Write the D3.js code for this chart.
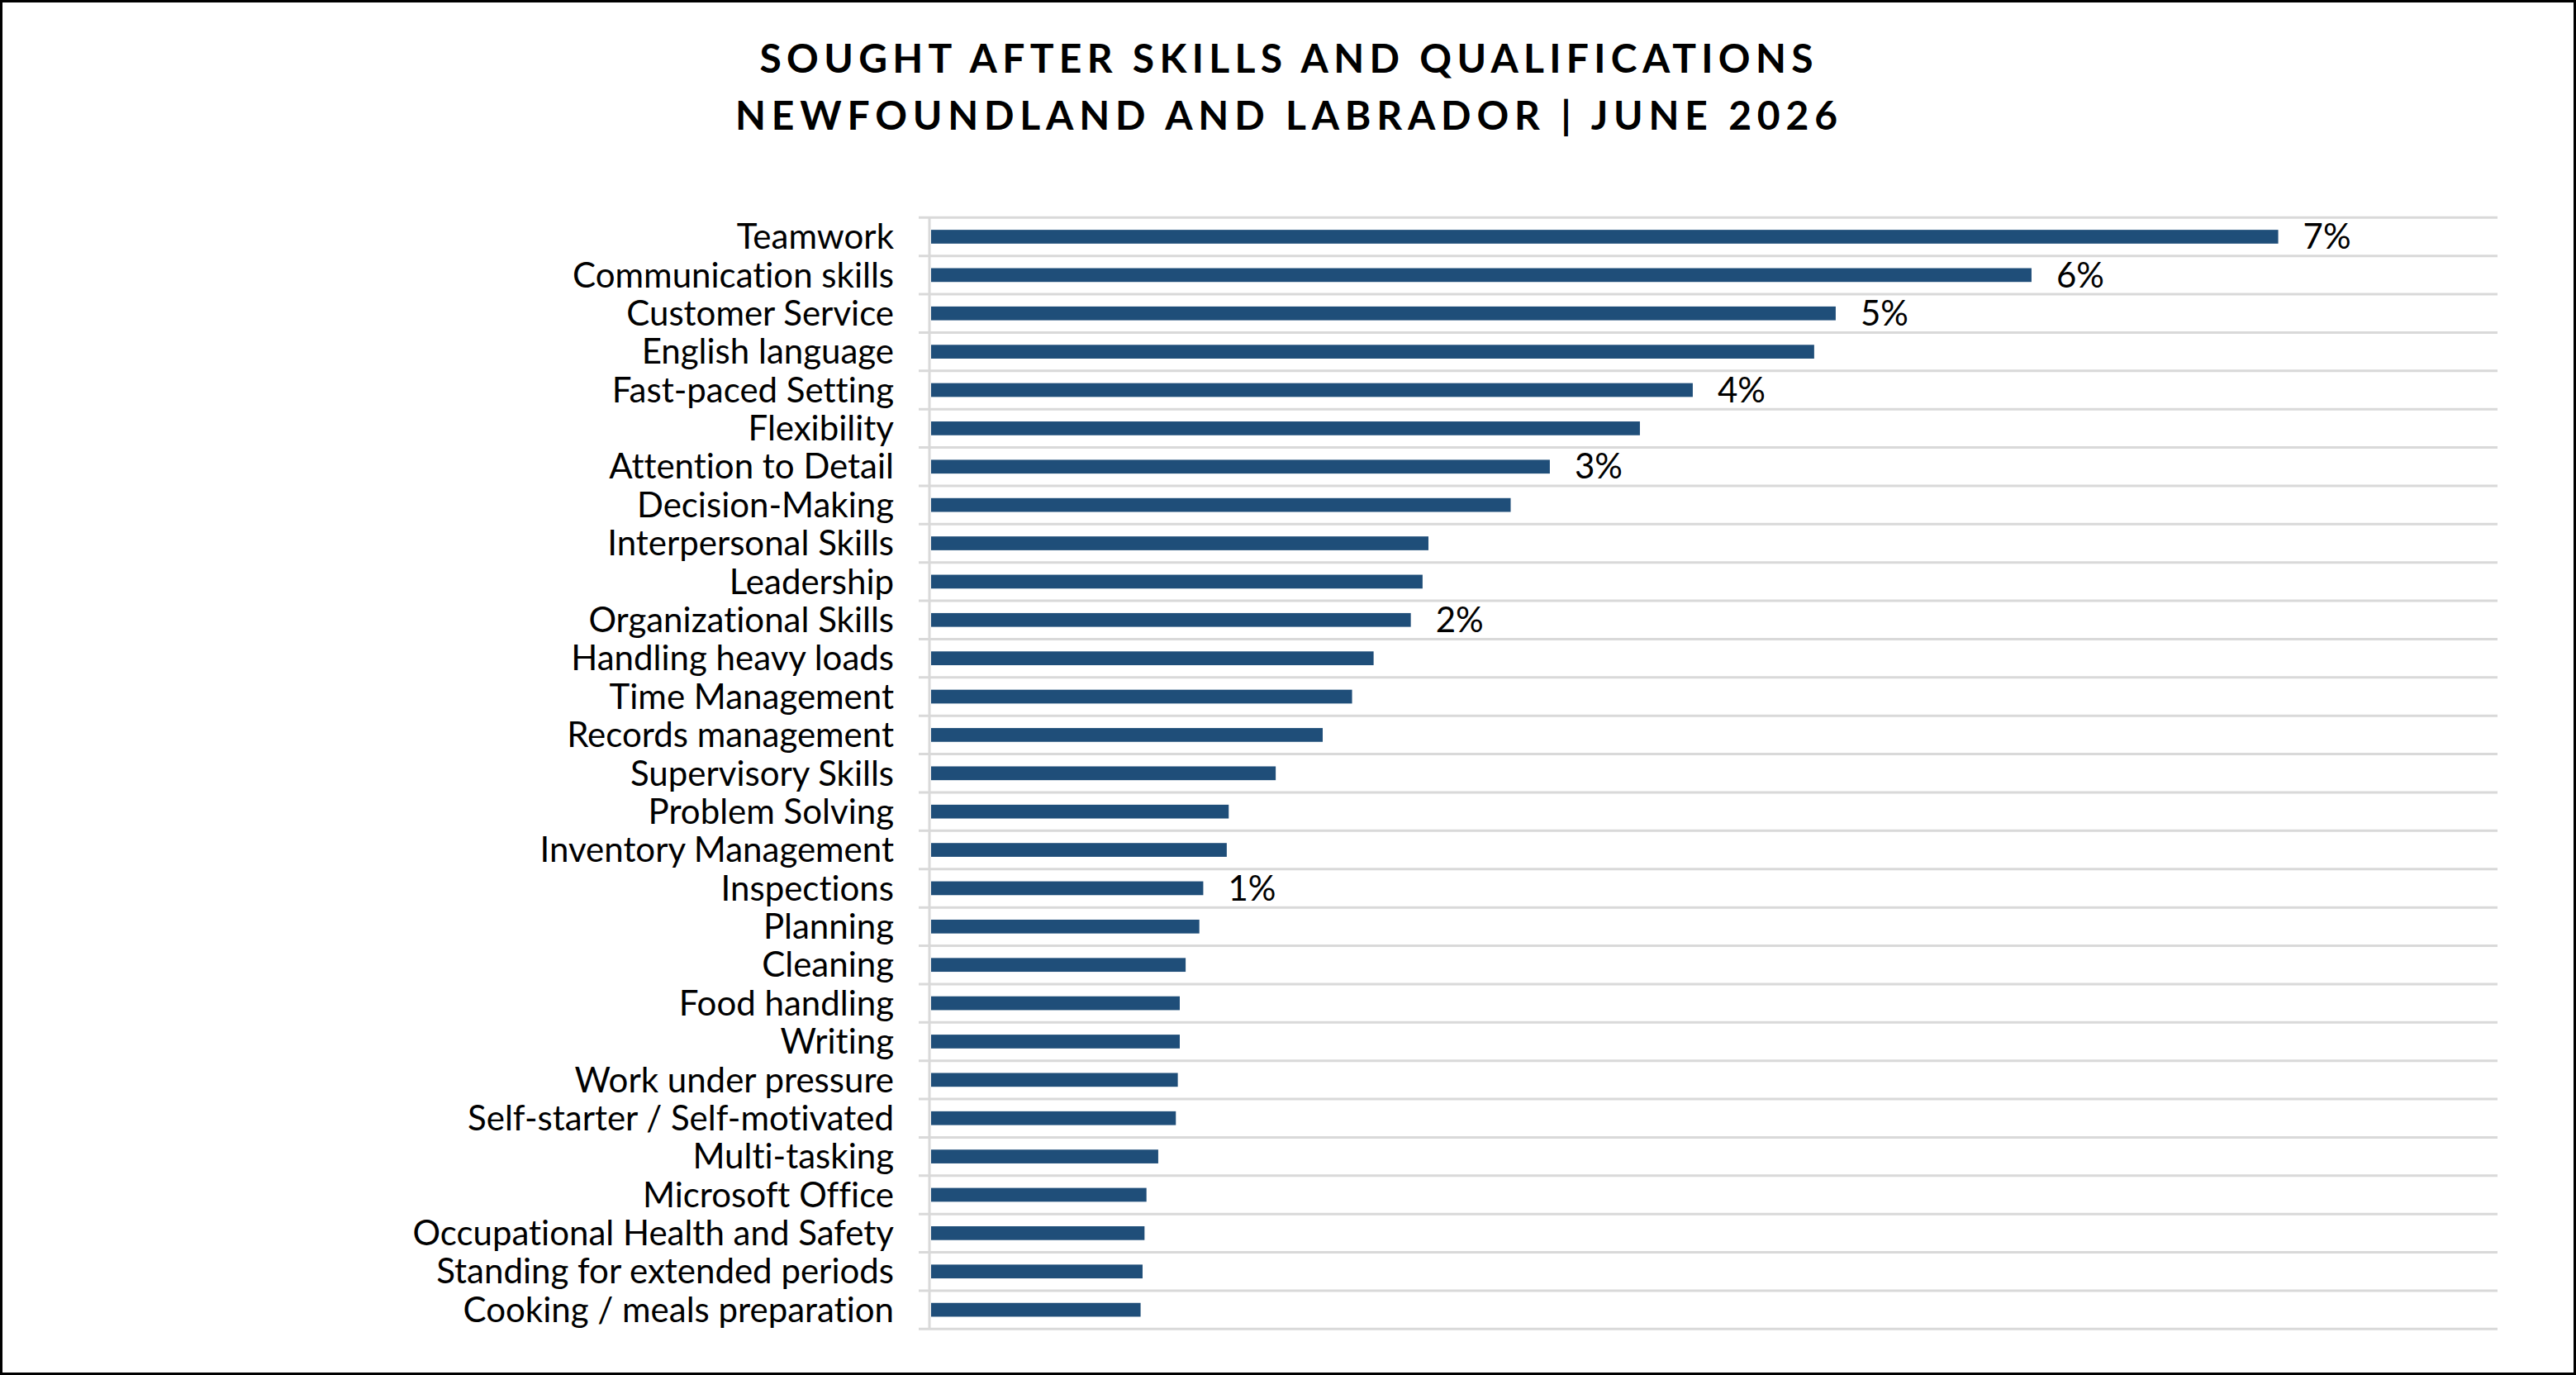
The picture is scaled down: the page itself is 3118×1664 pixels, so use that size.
<!DOCTYPE html>
<html>
<head>
<meta charset="utf-8">
<script src="https://cdn.jsdelivr.net/npm/d3@7"></script>
<style>
  html, body { margin: 0; padding: 0; background: #fff; }
  svg { display: block; }
  text { font-variant-ligatures: none; font-feature-settings: "liga" 0, "clig" 0; }
</style>
</head>
<body>
<svg id="d3-chart" width="3118" height="1664"></svg>
<script>
const titleLines = [
    "SOUGHT AFTER SKILLS AND QUALIFICATIONS",
    "NEWFOUNDLAND AND LABRADOR | JUNE 2026"
];

const skills = [
    "Teamwork", "Communication skills", "Customer Service", "English language",
    "Fast-paced Setting", "Flexibility", "Attention to Detail", "Decision-Making",
    "Interpersonal Skills", "Leadership", "Organizational Skills", "Handling heavy loads",
    "Time Management", "Records management", "Supervisory Skills", "Problem Solving",
    "Inventory Management", "Inspections", "Planning", "Cleaning",
    "Food handling", "Writing", "Work under pressure", "Self-starter / Self-motivated",
    "Multi-tasking", "Microsoft Office", "Occupational Health and Safety",
    "Standing for extended periods", "Cooking / meals preparation"
];

// share of postings (%)
const shares = [
    6.88, 5.62, 4.62, 4.51,
    3.89, 3.62, 3.16, 2.96,
    2.54, 2.51, 2.45, 2.26,
    2.15, 2.00, 1.76, 1.52,
    1.51, 1.39, 1.37, 1.30,
    1.27, 1.27, 1.26, 1.25,
    1.16, 1.10, 1.09,
    1.08, 1.07
];

// only these bars carry a data label
const labelledSkills = [
    "Teamwork", "Communication skills", "Customer Service", "Fast-paced Setting",
    "Attention to Detail", "Organizational Skills", "Inspections"
];

const axisMax = 8;

function draw_skills_bars(containerId = '#d3-chart') {
    const svg = d3.select(containerId);
    const width = 3118;
    const height = 1664;

    svg.selectAll("*").remove();

    const data = skills.map((s, i) => ({ skill: s, value: shares[i] }));

    // frame
    svg.append("rect")
        .attr("x", 1.5)
        .attr("y", 1.5)
        .attr("width", width - 3)
        .attr("height", height - 3)
        .attr("fill", "#fff")
        .attr("stroke", "#000")
        .attr("stroke-width", 3);

    const x = d3.scaleLinear()
        .domain([0, axisMax])
        .range([1127, 3023]);

    const y = d3.scaleBand()
        .domain(skills)
        .range([263.3, 1608.3])
        .paddingInner(0.64)
        .paddingOuter(0.32);

    const step = y.step();
    const top = y.range()[0];

    // CATEGORY GRIDLINES
    svg.append("g")
        .selectAll("line")
        .data(d3.range(skills.length + 1))
        .enter().append("line")
        .attr("x1", 1112)
        .attr("x2", x.range()[1])
        .attr("y1", i => top + i * step)
        .attr("y2", i => top + i * step)
        .attr("stroke", "#d9d9d9")
        .attr("stroke-width", 3);

    // vertical category axis line
    svg.append("line")
        .attr("x1", 1125)
        .attr("x2", 1125)
        .attr("y1", top)
        .attr("y2", y.range()[1])
        .attr("stroke", "#d9d9d9")
        .attr("stroke-width", 3);

    // BARS
    svg.append("g")
        .selectAll("rect")
        .data(data)
        .enter().append("rect")
        .attr("x", x(0))
        .attr("y", d => y(d.skill))
        .attr("width", d => x(d.value) - x(0))
        .attr("height", y.bandwidth())
        .attr("fill", "#1f4e79");

    // CATEGORY LABELS
    svg.append("g")
        .selectAll("text")
        .data(data)
        .enter().append("text")
        .attr("x", 1082)
        .attr("y", d => y(d.skill) + y.bandwidth() / 2)
        .attr("dy", "0.35em")
        .attr("text-anchor", "end")
        .attr("font-family", "Lato, 'Open Sans', sans-serif")
        .attr("font-size", 42)
        .attr("fill", "#000")
        .text(d => d.skill);

    // DATA LABELS
    svg.append("g")
        .selectAll("text")
        .data(data.filter(d => labelledSkills.includes(d.skill)))
        .enter().append("text")
        .attr("x", d => x(d.value) + 30)
        .attr("y", d => y(d.skill) + y.bandwidth() / 2)
        .attr("dy", "0.35em")
        .attr("text-anchor", "start")
        .attr("font-family", "Lato, 'Open Sans', sans-serif")
        .attr("font-size", 42)
        .attr("fill", "#000")
        .text(d => d3.format(".0f")(d.value) + "%");

    // TITLE
    const titleWidths = [1275, 1334];
    svg.append("g")
        .selectAll("text")
        .data(titleLines)
        .enter().append("text")
        .attr("x", 1557)
        .attr("y", (d, i) => 88 + i * 69)
        .attr("text-anchor", "middle")
        .attr("font-family", "Lato, 'Open Sans', sans-serif")
        .attr("font-weight", 700)
        .attr("font-size", 48)
        .attr("textLength", (d, i) => titleWidths[i])
        .attr("lengthAdjust", "spacing")
        .attr("fill", "#000")
        .text(d => d);
}

draw_skills_bars();
</script>
</body>
</html>
